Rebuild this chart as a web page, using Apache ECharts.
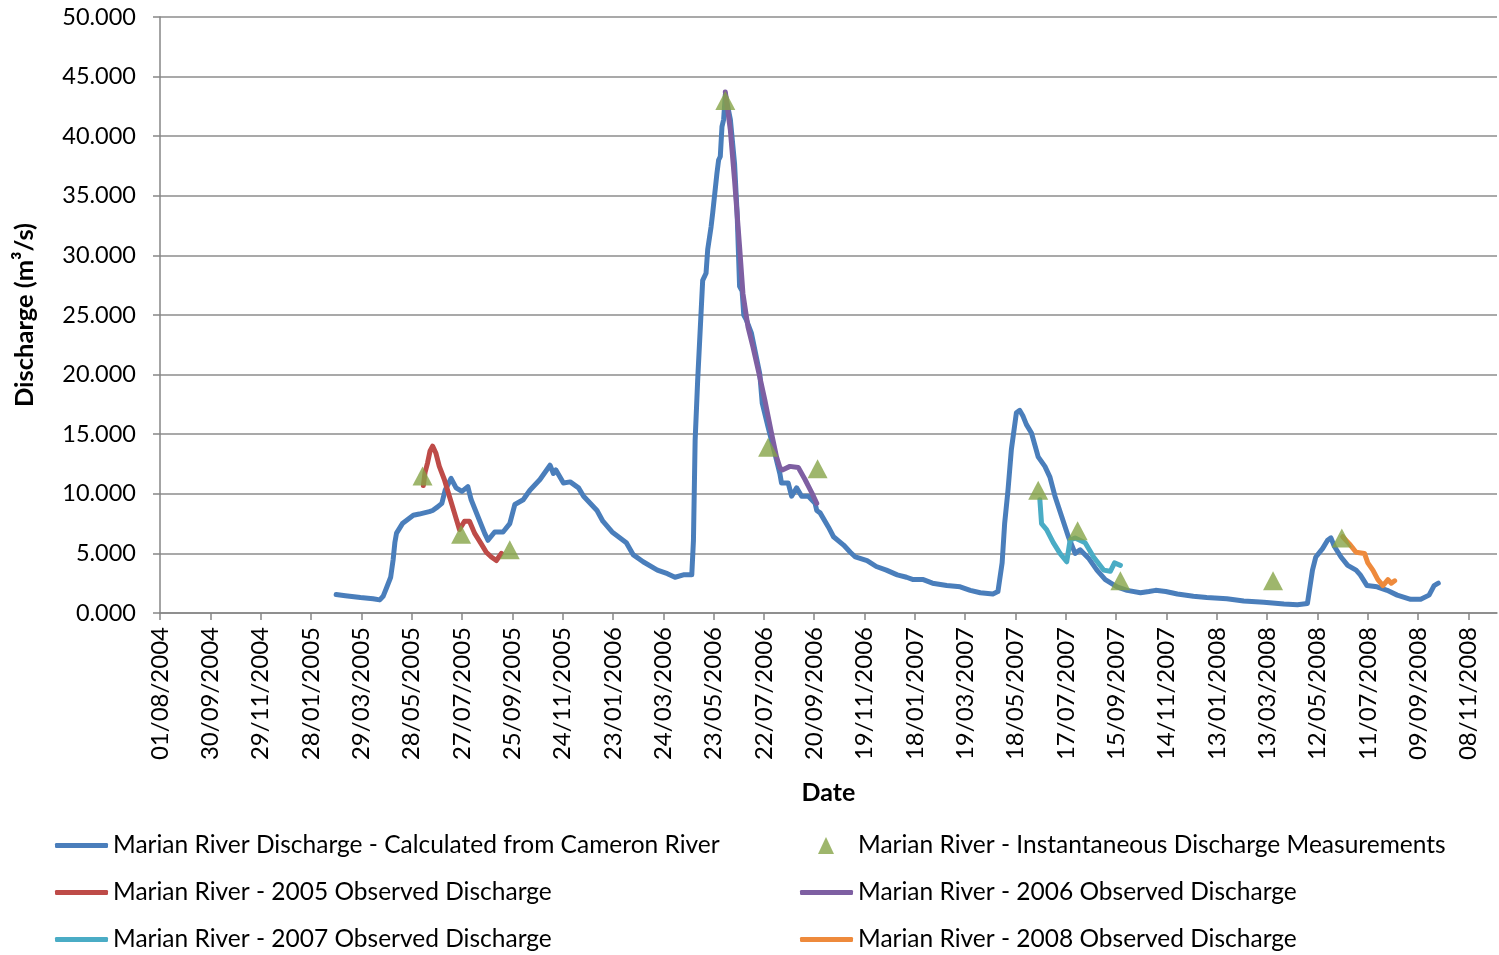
<!DOCTYPE html>
<html>
<head>
<meta charset="utf-8">
<script src="https://cdn.jsdelivr.net/npm/echarts@6/dist/echarts.min.js"></script>
<style>
html,body{margin:0;padding:0;background:#fff;}
#chart{width:1499px;height:955px;}
</style>
</head>
<body>
<div id="chart"></div>
<script>
// ---- Data (dates as YYYY-MM-DD, discharge in m³/s) ----
const calcDates = ['2005-02-27','2005-03-10','2005-03-28','2005-04-12','2005-04-20','2005-04-24','2005-04-28','2005-05-03','2005-05-06','2005-05-08','2005-05-10','2005-05-17','2005-05-30','2005-06-06','2005-06-12','2005-06-18','2005-06-22','2005-06-28','2005-07-03','2005-07-07','2005-07-14','2005-07-20','2005-07-27','2005-08-03','2005-08-07','2005-08-15','2005-08-23','2005-08-27','2005-09-04','2005-09-14','2005-09-22','2005-09-28','2005-10-08','2005-10-16','2005-10-28','2005-11-09','2005-11-13','2005-11-16','2005-11-25','2005-12-03','2005-12-13','2005-12-19','2006-01-04','2006-01-11','2006-01-22','2006-02-08','2006-02-16','2006-02-28','2006-03-17','2006-03-29','2006-04-07','2006-04-17','2006-04-27','2006-04-29','2006-05-01','2006-05-04','2006-05-10','2006-05-14','2006-05-16','2006-05-20','2006-05-22','2006-05-27','2006-05-29','2006-05-31','2006-06-02','2006-06-04','2006-06-06','2006-06-12','2006-06-17','2006-06-20','2006-06-23','2006-06-26','2006-06-28','2006-07-01','2006-07-07','2006-07-17','2006-07-20','2006-07-27','2006-08-04','2006-08-10','2006-08-12','2006-08-20','2006-08-24','2006-08-30','2006-09-05','2006-09-13','2006-09-21','2006-09-23','2006-09-27','2006-10-07','2006-10-13','2006-10-25','2006-11-02','2006-11-08','2006-11-22','2006-12-03','2006-12-15','2006-12-28','2007-01-08','2007-01-16','2007-01-28','2007-02-08','2007-02-25','2007-03-13','2007-03-25','2007-04-06','2007-04-21','2007-04-27','2007-05-02','2007-05-05','2007-05-09','2007-05-13','2007-05-19','2007-05-23','2007-05-27','2007-05-31','2007-06-06','2007-06-14','2007-06-22','2007-06-28','2007-07-04','2007-07-12','2007-07-20','2007-07-28','2007-08-03','2007-08-13','2007-08-23','2007-09-02','2007-09-16','2007-09-28','2007-10-14','2007-10-24','2007-11-01','2007-11-13','2007-11-27','2007-12-16','2008-01-01','2008-01-25','2008-02-14','2008-03-09','2008-04-02','2008-04-18','2008-04-30','2008-05-06','2008-05-10','2008-05-18','2008-05-24','2008-05-28','2008-06-01','2008-06-09','2008-06-17','2008-06-27','2008-07-02','2008-07-10','2008-07-22','2008-08-03','2008-08-15','2008-08-31','2008-09-12','2008-09-22','2008-09-28','2008-10-03'];
const calcValues = [1.55,1.45,1.3,1.2,1.1,1.4,2.1,3.0,4.5,5.9,6.7,7.5,8.2,8.3,8.4,8.5,8.6,8.9,9.2,10.3,11.3,10.5,10.2,10.6,9.5,8.1,6.7,6.1,6.8,6.8,7.5,9.1,9.5,10.3,11.2,12.4,11.7,12.0,10.9,11.0,10.5,9.8,8.6,7.7,6.8,5.9,4.9,4.3,3.6,3.3,3.0,3.2,3.2,6.1,14.5,19.5,27.9,28.5,30.5,32.4,33.6,36.9,38.0,38.3,40.8,41.4,43.5,41.4,37.7,33.6,27.4,27.0,25.0,24.6,23.5,20.1,17.6,15.6,13.4,11.7,10.9,10.9,9.8,10.5,9.8,9.8,9.2,8.6,8.4,7.2,6.4,5.7,5.1,4.7,4.4,3.9,3.6,3.2,3.0,2.8,2.8,2.5,2.3,2.2,1.9,1.7,1.6,1.8,4.2,7.5,10.3,13.7,16.8,17.0,16.5,15.8,15.1,13.1,12.3,11.4,9.8,8.1,6.4,5.0,5.3,4.6,3.6,2.8,2.2,1.9,1.7,1.8,1.9,1.8,1.6,1.4,1.3,1.2,1.0,0.9,0.75,0.7,0.8,3.6,4.7,5.4,6.1,6.3,5.6,4.7,4.0,3.6,3.2,2.3,2.2,1.9,1.5,1.15,1.15,1.5,2.3,2.5];

const measDates = ['2005-06-10','2005-07-26','2005-09-22','2006-06-06','2006-07-27','2006-09-24','2007-06-14','2007-07-31','2007-09-20','2008-03-20','2008-06-10'];
const measValues = [11.5,6.6,5.3,43.0,13.9,12.1,10.3,6.9,2.7,2.7,6.3];

const obs2005Dates = ['2005-06-11','2005-06-13','2005-06-16','2005-06-19','2005-06-22','2005-06-26','2005-06-30','2005-07-06','2005-07-12','2005-07-18','2005-07-24','2005-07-30','2005-08-05','2005-08-11','2005-08-19','2005-08-25','2005-08-31','2005-09-06','2005-09-12'];
const obs2005Values = [10.7,11.8,12.6,13.6,14.0,13.4,12.3,11.2,9.8,8.4,7.0,7.7,7.7,6.7,5.8,5.1,4.7,4.4,5.0];

const obs2006Dates = ['2006-06-06','2006-06-12','2006-06-17','2006-06-23','2006-06-27','2006-07-03','2006-07-09','2006-07-18','2006-07-23','2006-07-31','2006-08-06','2006-08-10','2006-08-13','2006-08-22','2006-09-01','2006-09-09','2006-09-17','2006-09-23'];
const obs2006Values = [43.7,40.5,36.3,30.7,26.8,24.0,22.3,19.5,17.9,15.1,13.1,12.2,12.0,12.3,12.2,11.2,10.1,9.2];

const obs2007Dates = ['2007-06-16','2007-06-18','2007-06-24','2007-07-02','2007-07-10','2007-07-18','2007-07-22','2007-07-28','2007-08-09','2007-08-19','2007-08-31','2007-09-08','2007-09-13','2007-09-20'];
const obs2007Values = [9.5,7.5,7.0,5.9,5.0,4.3,6.1,6.3,5.9,4.7,3.6,3.5,4.2,4.0];

const obs2008Dates = ['2008-06-11','2008-06-19','2008-06-27','2008-07-07','2008-07-11','2008-07-17','2008-07-23','2008-07-29','2008-08-04','2008-08-08','2008-08-12'];
const obs2008Values = [6.4,5.8,5.1,5.0,4.2,3.6,2.8,2.3,2.8,2.5,2.7];

const seriesNames = [
  'Marian River Discharge - Calculated from Cameron River',
  'Marian River - Instantaneous Discharge Measurements',
  'Marian River - 2005 Observed Discharge',
  'Marian River - 2006 Observed Discharge',
  'Marian River - 2007 Observed Discharge',
  'Marian River - 2008 Observed Discharge'
];

// x axis: days counted from 01/08/2004, tick every 60 days
const axisStart = Date.UTC(2004, 7, 1);
const tickDays = 60;
const axisEndDays = 1594;
const yMax = 50, yStep = 5;

function dayOf(s) {
  const p = s.split('-').map(Number);
  return (Date.UTC(p[0], p[1] - 1, p[2]) - axisStart) / 86400000;
}
function pairs(dates, vals) { return dates.map((d, i) => [dayOf(d), vals[i]]); }
function fmtDay(v) {
  if (Math.round(v) % tickDays !== 0) return '';
  const d = new Date(axisStart + v * 86400000);
  const dd = String(d.getUTCDate()).padStart(2, '0');
  const mm = String(d.getUTCMonth() + 1).padStart(2, '0');
  return dd + '/' + mm + '/' + d.getUTCFullYear();
}

const FONT = 'Lato';
const colors = ['#4A7EBB', '#86A447', '#BE4B48', '#7E5FA2', '#4AACC5', '#EE8A3C'];

function lineSeries(i, data, z) {
  return {
    name: seriesNames[i], type: 'line', data: data, symbol: 'none', showSymbol: false,
    lineStyle: { width: 5, color: colors[i], cap: 'round', join: 'round' },
    itemStyle: { color: colors[i] }, z: z, animation: false
  };
}

function legendItem(i, left, top, icon, w, h, extraPad) {
  return {
    data: [seriesNames[i]], left: left, top: top, padding: 0, icon: icon,
    itemWidth: w, itemHeight: h, selectedMode: false,
    textStyle: { fontFamily: FONT, fontSize: 24.5, color: '#000', padding: [0, 0, 0, extraPad || 0] }
  };
}

const chart = echarts.init(document.getElementById('chart'), null, { renderer: 'canvas' });
chart.setOption({
  animation: false,
  backgroundColor: '#fff',
  grid: { left: 160, right: 2, top: 17, bottom: 342, containLabel: false },
  xAxis: {
    type: 'value', min: 0, max: axisEndDays, interval: tickDays,
    name: 'Date', nameLocation: 'middle', nameGap: 167,
    nameTextStyle: { fontFamily: FONT, fontSize: 25, fontWeight: 'bold', color: '#000' },
    axisLine: { lineStyle: { color: '#868686', width: 1.5 } },
    axisTick: { show: true, length: 7, lineStyle: { color: '#868686', width: 1.5 } },
    axisLabel: { rotate: 90, margin: 14, fontFamily: FONT, fontSize: 24, color: '#000', formatter: fmtDay, showMaxLabel: false },
    splitLine: { show: false }
  },
  yAxis: {
    type: 'value', min: 0, max: yMax, interval: yStep,
    name: 'Discharge (m³/s)', nameLocation: 'middle', nameGap: 122,
    nameTextStyle: { fontFamily: FONT, fontSize: 25.5, fontWeight: 'bold', color: '#000' },
    axisLine: { show: true, lineStyle: { color: '#868686', width: 1.5 } },
    axisTick: { show: true, length: 7, lineStyle: { color: '#868686', width: 1.5 } },
    axisLabel: { margin: 24, fontFamily: FONT, fontSize: 23.5, color: '#000', formatter: v => v.toFixed(3) },
    splitLine: { show: true, lineStyle: { color: '#8c8c8c', width: 1.5 } }
  },
  legend: [
    legendItem(0, 55, 833, 'roundRect', 53, 5),
    legendItem(1, 818, 833, 'triangle', 16, 17, 19),
    legendItem(2, 55, 880, 'roundRect', 53, 5),
    legendItem(3, 800, 880, 'roundRect', 53, 5),
    legendItem(4, 55, 927, 'roundRect', 53, 5),
    legendItem(5, 800, 927, 'roundRect', 53, 5)
  ],
  series: [
    lineSeries(0, pairs(calcDates, calcValues), 2),
    {
      name: seriesNames[1], type: 'scatter', data: pairs(measDates, measValues),
      symbol: 'triangle', symbolSize: [20, 19], itemStyle: { color: colors[1] }, z: 10
    },
    lineSeries(2, pairs(obs2005Dates, obs2005Values), 3),
    lineSeries(3, pairs(obs2006Dates, obs2006Values), 3),
    lineSeries(4, pairs(obs2007Dates, obs2007Values), 3),
    lineSeries(5, pairs(obs2008Dates, obs2008Values), 3)
  ]
});
</script>
</body>
</html>
